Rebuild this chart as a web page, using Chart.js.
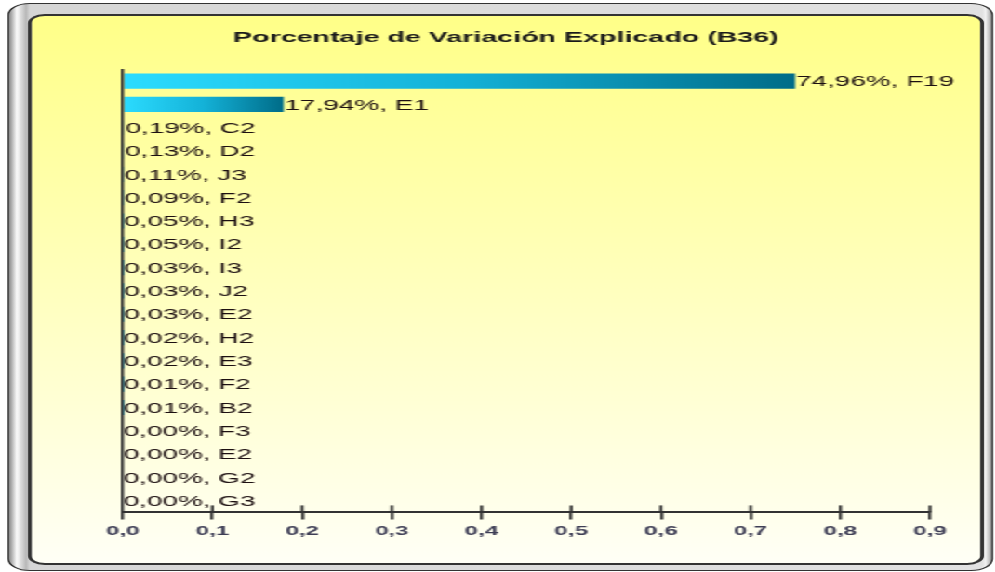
<!DOCTYPE html>
<html>
<head>
<meta charset="utf-8">
<script src="https://cdn.jsdelivr.net/npm/chart.js@4.4.1/dist/chart.umd.min.js"></script>
<style>
  html, body { margin: 0; padding: 0; background: #fff; overflow: hidden; }
  /* the reference looks horizontally stretched, so draw narrow and scale */
  #wrap { position: absolute; left: 0; top: 0; width: 535px; height: 572px;
          transform: scaleX(1.86); transform-origin: 0 0; }
  #frame { position: absolute; left: 4px; top: 3px; width: 530px; height: 568px;
           box-sizing: border-box; border: 1px solid #333; border-radius: 12px;
           background: linear-gradient(to right, #8c8c8c 0px, #fbfbfb 4px, #b8b8b8 9px, #d6d6d6 11px,
                       #e2e2e2 calc(100% - 5px), #f2f2f2 calc(100% - 3px), #9a9a9a 100%); }
  #panel { position: absolute; left: 14.5px; top: 14px; width: 514.5px; height: 551px;
           box-sizing: border-box; border: 2px solid #333; border-radius: 9px;
           background: linear-gradient(to bottom, #ffff88 0%, #ffffbe 50%, #fffff6 100%); }
  #c { position: absolute; left: 16px; top: 0; }
</style>
</head>
<body>
<div id="wrap">
  <div id="frame"></div>
  <div id="panel"></div>
  <canvas id="c" width="512" height="572" style="width:512px;height:572px"></canvas>
</div>
<script>
"use strict";

const titleText = "Porcentaje de Variación Explicado (B36)";
const categories = ["F19", "E1", "C2", "D2", "J3", "F2", "H3", "I2", "I3", "J2",
                    "E2", "H2", "E3", "F2", "B2", "F3", "E2", "G2", "G3"];
const variation = [0.7496, 0.1794, 0.0019, 0.0013, 0.0011, 0.0009, 0.0005, 0.0005, 0.0003, 0.0003,
                   0.0003, 0.0002, 0.0002, 0.0001, 0.0001, 0.0000, 0.0000, 0.0000, 0.0000];
const xTicks = [0, 0.1, 0.2, 0.3, 0.4, 0.5, 0.6, 0.7, 0.8, 0.9];

const comma = (v, d) => v.toFixed(d).replace(".", ",");

// each bar gets its own cyan -> teal gradient along its length
const barGradient = {
  id: "barGradient",
  beforeDatasetsDraw(chart) {
    const x = chart.scales.x;
    const x0 = x.getPixelForValue(0);
    chart.getDatasetMeta(0).data.forEach((bar) => {
      const x1 = Math.max(bar.x, x0 + 1);
      const g = chart.ctx.createLinearGradient(x0, 0, x1, 0);
      g.addColorStop(0, "#2cdcff");
      g.addColorStop(0.5, "#14b2d8");
      g.addColorStop(1, "#006c88");
      // options can be shared between bars, so give each bar its own copy
      bar.options = Object.assign({}, bar.options, { backgroundColor: g });
    });
  }
};

const barLabels = {
  id: "barLabels",
  afterDatasetsDraw(chart) {
    const ctx = chart.ctx;
    const meta = chart.getDatasetMeta(0);
    ctx.save();
    ctx.font = "15px 'Liberation Sans', Arial, sans-serif";
    ctx.fillStyle = "#1c0f11";
    ctx.textBaseline = "middle";
    ctx.textAlign = "left";
    meta.data.forEach((bar, i) => {
      const txt = comma(variation[i] * 100, 2) + "%, " + categories[i];
      ctx.fillText(txt, bar.x + 0.5, bar.y + 1);
    });
    ctx.restore();
  }
};

// tick marks that cross the x axis line (Chart.js only draws the outer half)
const crossTicks = {
  id: "crossTicks",
  afterDraw(chart) {
    const x = chart.scales.x;
    const ctx = chart.ctx;
    const yb = chart.chartArea.bottom;
    ctx.save();
    ctx.strokeStyle = "#333";
    ctx.lineWidth = 1.6;
    x.ticks.forEach(t => {
      if (t.value === 0) return;
      const px = x.getPixelForValue(t.value);
      ctx.beginPath();
      ctx.moveTo(px, yb - 7);
      ctx.lineTo(px, yb);
      ctx.stroke();
    });
    ctx.restore();
  }
};

const data = {
  labels: categories,
  datasets: [{
    data: variation,
    backgroundColor: "#1ab0d8",
    borderWidth: 0,
    categoryPercentage: 1,
    barPercentage: 0.65,
  }],
};

const config = {
  type: "bar",
  data: data,
  options: {
    indexAxis: "y",
    responsive: false,
    animation: false,
    devicePixelRatio: 1,
    layout: {
      padding: { left: 28, right: 28, top: 10, bottom: 29 },
    },
    plugins: {
      legend: { display: false },
      tooltip: { enabled: false },
      title: {
        display: true,
        text: titleText,
        color: "#1a1a1a",
        font: { family: "'Liberation Sans', Arial, sans-serif", size: 15.4, weight: "bold" },
        padding: { top: 19, bottom: 22 },
      },
    },
    scales: {
      x: {
        type: "linear",
        min: 0,
        max: 0.9,
        afterBuildTicks: (scale) => { scale.ticks = xTicks.map(v => ({ value: v })); },
        ticks: {
          padding: 4,
          color: "#3e3e55",
          font: { family: "'Liberation Sans', Arial, sans-serif", size: 13, weight: "bold" },
          callback: (value) => comma(value, 1),
        },
        grid: {
          display: true,
          drawOnChartArea: false,
          drawTicks: true,
          tickLength: 7,
          color: "#333",
          lineWidth: 1.6,
        },
        border: { display: true, color: "#333", width: 2 },
      },
      y: {
        afterFit: (scale) => { scale.width = 22; },
        ticks: { display: false },
        grid: { display: false },
        border: { display: true, color: "#333", width: 1.6, z: 1 },
      },
    },
  },
  plugins: [barGradient, barLabels, crossTicks],
};

const myChart = new Chart(document.getElementById("c"), config);
</script>
</body>
</html>
